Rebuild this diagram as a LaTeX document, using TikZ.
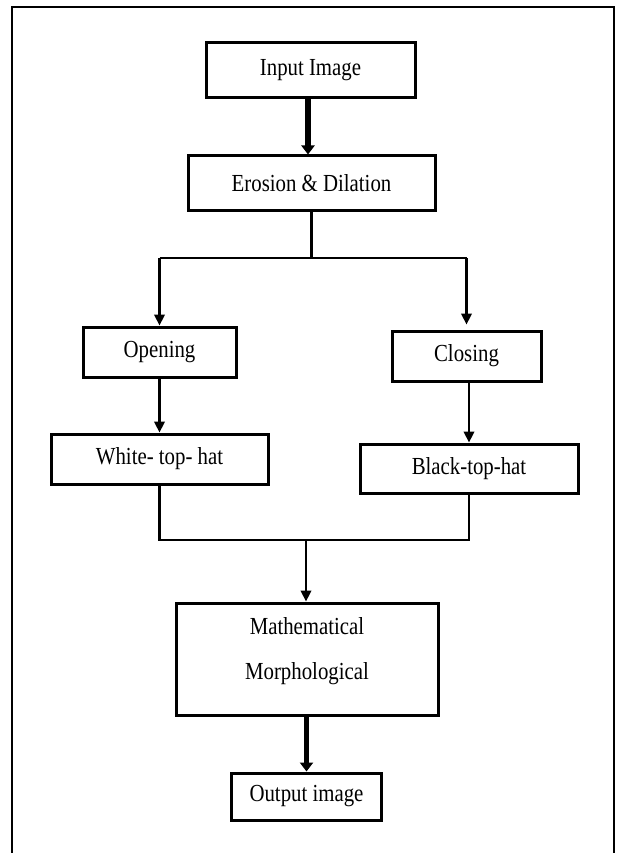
\documentclass[tikz,border=0pt]{standalone}
\usepackage{fontspec}
\setmainfont{Liberation Serif}[FakeStretch=0.85]
\usetikzlibrary{arrows.meta}
\tikzset{
  box/.style={draw=black, line width=3pt, inner sep=0pt, align=center,
    font=\fontsize{24.5}{45}\selectfont},
  txt/.style={inner sep=0pt, align=center, font=\fontsize{24.5}{45}\selectfont},
  conn/.style={draw=black, line width=2.4pt},
  arr/.style={conn, -{Triangle[length=11pt,width=10.5pt]}},
  thickarr/.style={draw=black, line width=5.5pt, -{Triangle[length=9pt,width=13pt]}},
  frame/.style={draw=black, line width=2.6pt}
}
\begin{document}
\begin{tikzpicture}[x=1pt,y=-1pt]
\useasboundingbox (0,0) rectangle (616,853);
\draw[frame] (12,853) -- (12,7) -- (614,7) -- (614,853);

\node[box, minimum width=209pt, minimum height=55pt] (input) at (310.5,70.5) {Input Image};
\node[box, minimum width=247pt, minimum height=54pt] (erosion) at (311.5,183) {Erosion \& Dilation};
\node[box, minimum width=153pt, minimum height=50pt] (opening) at (159.5,352) {Opening};
\node[box, minimum width=149pt, minimum height=50pt] (closing) at (466.5,356) {Closing};
\node[box, minimum width=217pt, minimum height=50pt] (white) at (159.5,459) {White- top- hat};
\node[box, minimum width=218pt, minimum height=49pt] (black) at (469,468.5) {Black-top-hat};
\node[box, minimum width=262pt, minimum height=112pt] (math) at (307,659) {};
\node[txt] (mathtxt) at (307,651) {Mathematical\\Morphological};
\node[box, minimum width=150pt, minimum height=47pt] (output) at (306.5,796.5) {Output image};

\coordinate (split) at (311,258);
\coordinate (merge) at (306,540);

\draw[thickarr] (input.south -| 308,0) -- (erosion.north -| 308,0);
\draw[conn] (erosion.south) -- (erosion.south |- split);
\draw[conn] (opening.north |- split) -- (closing.north |- split);
\draw[arr] (opening.north |- split) -- (opening.north);
\draw[arr, shorten >=5pt] (closing.north |- split) -- (closing.north);
\draw[arr] (opening.south) -- (white.north);
\draw[arr] (black.north |- closing.south) -- (black.north);
\draw[conn] (white.south) -- (white.south |- merge) -- (black.south |- merge) -- (black.south);
\draw[arr] (merge) -- (merge |- math.north);
\draw[thickarr] (output.north |- math.south) -- (output.north);
\end{tikzpicture}
\end{document}
